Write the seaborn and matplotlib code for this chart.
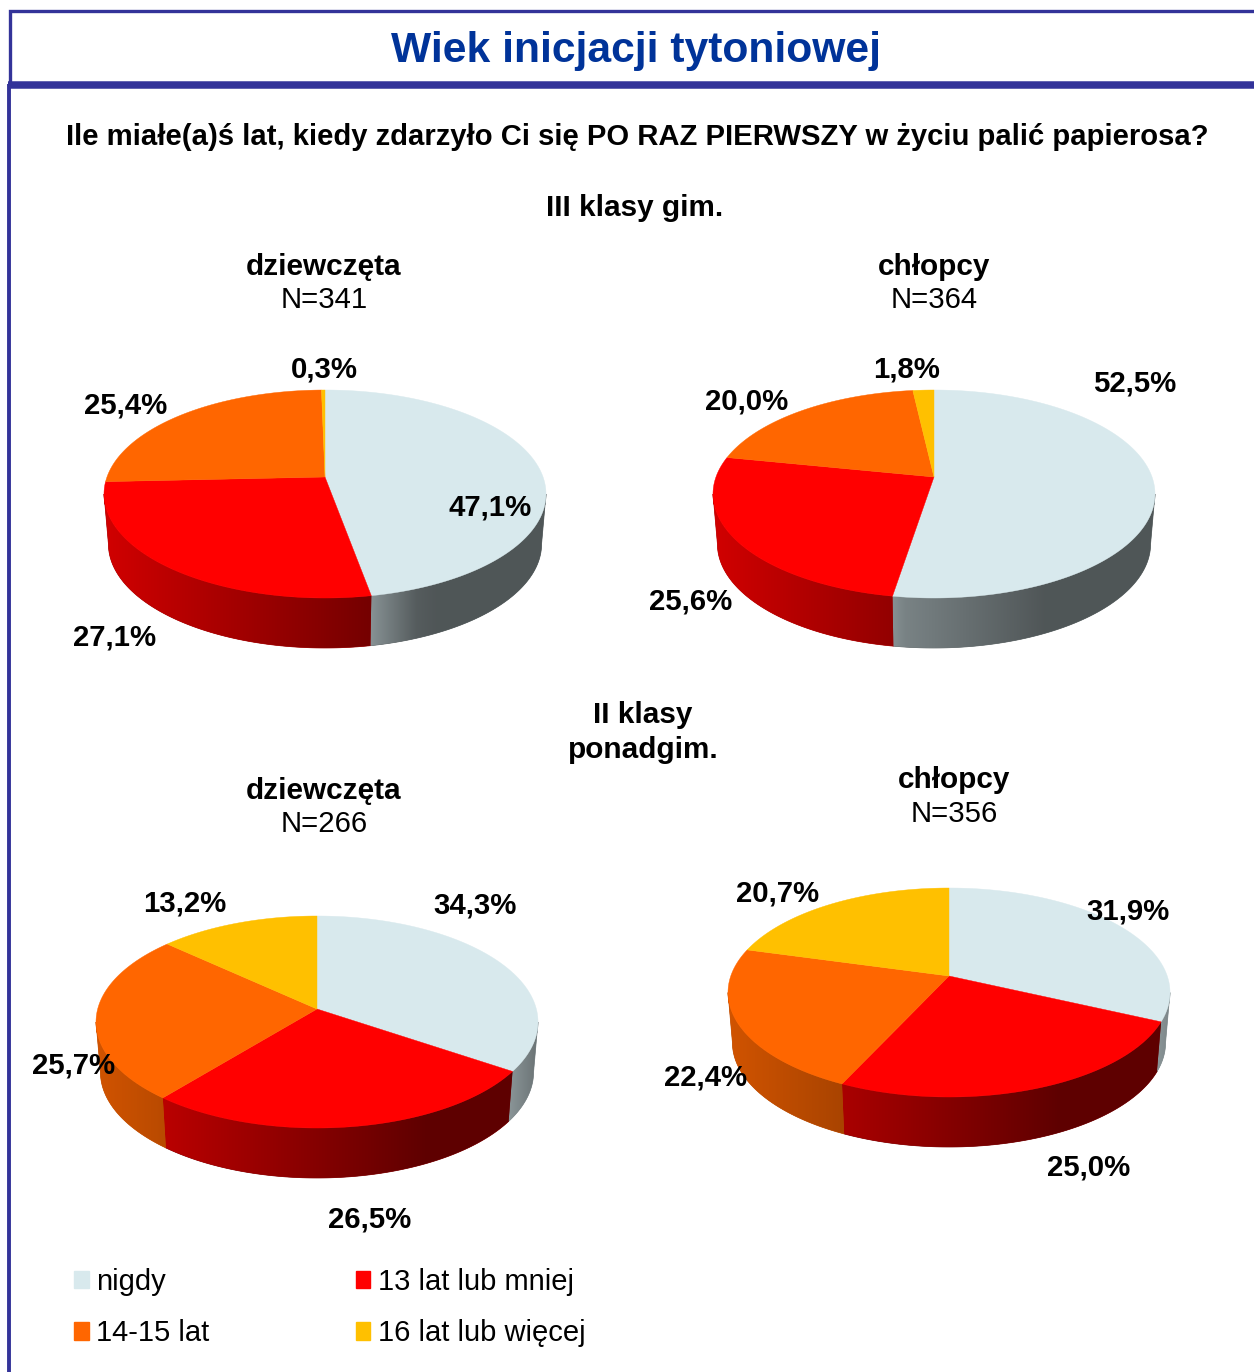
import numpy as np
import matplotlib
matplotlib.use('Agg')
import matplotlib.pyplot as plt
from matplotlib.patches import Patch, Polygon
import seaborn as sns

W, H = 1254, 1372

# data
categories = ['nigdy', '13 lat lub mniej', '14-15 lat', '16 lat lub więcej']
girls_gim = [47.1, 27.1, 25.4, 0.3]
boys_gim = [52.5, 25.6, 20.0, 1.8]
girls_pon = [34.3, 26.5, 25.7, 13.2]
boys_pon = [31.9, 25.0, 22.4, 20.7]
n_values = [341, 364, 266, 356]
group_names = ['dziewczęta', 'chłopcy', 'dziewczęta', 'chłopcy']

# pie geometry in pixels: apex x, apex y, half width, up, down
pie_boxes = [(325, 477, 221, 87, 121), (934, 477, 221, 87, 121),
             (317, 1009, 221, 93, 119), (949, 976, 221, 88, 121)]
DEPTH = 50
BASE_SCALE = 0.98  # the bottom rim looks a little narrower than the top one

# label centres in pixels, same order as the values
label_spots = [
    [(490, 508), (115, 638), (126, 406), (324, 370)],
    [(1135, 384), (691, 602), (747, 401), (907, 370)],
    [(475, 905), (370, 1219), (74, 1065), (185, 903)],
    [(1128, 911), (1089, 1167), (706, 1078), (778, 893)],
]
head_spots = [(324, 267, 300), (934, 267, 300), (324, 791, 824), (954, 780, 814)]

sns.set_theme(style='white', font='Liberation Sans')
palette = sns.color_palette(['#D8E9ED', '#FF0000', '#FF6600', '#FFC000'])
FRAME = '#333399'
TITLE = '#003399'
LABEL_SIZE = 21.2
HEAD_SIZE = 21.4


def project(theta, c, a, b):
    # circle seen in perspective, theta clockwise from the top, y grows down
    u, v = np.sin(theta), np.cos(theta)
    return c * u / (1 + b * v), -a * v / (1 + b * v)


def draw_pie(ax, values, up, down, rx):
    b = (down - up) / (down + up)
    a = up * (1 + b)
    c = rx * np.sqrt(1 - b ** 2)
    edges = np.radians(np.cumsum([0] + list(values)) / sum(values) * 360)
    right = np.arccos(-b)
    left = 2 * np.pi - right

    # side wall first, a gradient clipped to each slice's rim
    for i, col in enumerate(palette):
        t0, t1 = max(edges[i], right), min(edges[i + 1], left)
        if t1 <= t0:
            continue
        ts = np.linspace(t0, t1, 120)
        x, y = project(ts, c, a, b)
        rim = np.c_[np.r_[x, x[::-1] * BASE_SCALE], np.r_[y, y[::-1] + DEPTH]]

        xs = np.arange(np.floor(rim[:, 0].min()), np.ceil(rim[:, 0].max()) + 1)
        shade = np.clip(0.82 - 0.6 * (xs + rx) / (2 * rx), 0.37, None)
        if i == 0:
            # the first slice catches some light at its left end
            shade = np.maximum(shade, 0.62 - 0.2 * (xs - x.min()) / 40)
        grad = np.outer(shade, col)[np.newaxis, :, :]

        under = tuple(ch * shade.mean() for ch in col)
        ax.add_patch(Polygon(rim, color=under, lw=0.5, zorder=1))
        clip = Polygon(rim, transform=ax.transData)
        im = ax.imshow(grad, extent=(xs[0], xs[-1], down + DEPTH, -up), aspect='auto',
                       interpolation='bilinear', zorder=2)
        im.set_clip_path(clip)

    # top face
    for i, col in enumerate(palette):
        ts = np.linspace(edges[i], edges[i + 1], 200)
        x, y = project(ts, c, a, b)
        ax.fill(np.r_[0, x], np.r_[0, y], color=col, lw=0.3, zorder=3)

    ax.set_xlim(-rx - 3, rx + 3)
    ax.set_ylim(down + DEPTH + 3, -up - 3)
    ax.axis('off')


fig = plt.figure(figsize=(W / 100, H / 100), dpi=100, facecolor='white')

all_values = [girls_gim, boys_gim, girls_pon, boys_pon]
for values, (cx, cy, rx, up, down) in zip(all_values, pie_boxes):
    x0, x1 = cx - rx - 3, cx + rx + 3
    y0, y1 = cy - up - 3, cy + down + DEPTH + 3
    ax = fig.add_axes([x0 / W, 1 - y1 / H, (x1 - x0) / W, (y1 - y0) / H])
    draw_pie(ax, values, up, down, rx)

# overlay in pixel coordinates for frame and texts
top = fig.add_axes([0, 0, 1, 1], zorder=5)
top.set_xlim(0, W)
top.set_ylim(H, 0)
top.axis('off')
top.patch.set_alpha(0)

top.plot([W, 9.5, 9.5], [10.5, 10.5, 82], color=FRAME, lw=2.4, solid_joinstyle='miter')
top.plot([8, W], [84.5, 84.5], color=FRAME, lw=5.4, solid_capstyle='butt')
top.plot([8.5, 8.5], [84, H], color=FRAME, lw=2.8, solid_capstyle='butt')


def put(x, y, s, size=LABEL_SIZE, weight='bold', color='black'):
    top.text(x, y, s, ha='center', va='center', fontsize=size, fontweight=weight, color=color)


put(636, 51, 'Wiek inicjacji tytoniowej', size=30.7, color=TITLE)
put(637, 137, 'Ile miałe(a)ś lat, kiedy zdarzyło Ci się PO RAZ PIERWSZY w życiu palić papierosa?', size=21.1)
put(635, 208, 'III klasy gim.', size=HEAD_SIZE)
put(643, 715, 'II klasy', size=HEAD_SIZE)
put(643, 750, 'ponadgim.', size=HEAD_SIZE)

for name, n, (x, y1, y2) in zip(group_names, n_values, head_spots):
    put(x, y1, name, size=HEAD_SIZE)
    put(x, y2, f'N={n}', weight='normal')

for values, spots in zip(all_values, label_spots):
    for v, (x, y) in zip(values, spots):
        put(x, y, f'{v:.1f}'.replace('.', ',') + '%')

# legend fills by column, so reorder to read as in the picture
order = [0, 2, 1, 3]
handles = [Patch(color=palette[i], label=categories[i]) for i in order]
leg = top.legend(handles=handles, ncols=2, frameon=False, fontsize=21,
                 loc='upper left', bbox_to_anchor=(74 / W, 1 - 1268 / H), borderpad=0, borderaxespad=0,
                 handlelength=0.5, handleheight=0.55, handletextpad=0.27,
                 labelspacing=0.8, columnspacing=5.0)
for t in leg.get_texts():
    t.set_color('black')

fig.savefig('out.png', dpi=100)
